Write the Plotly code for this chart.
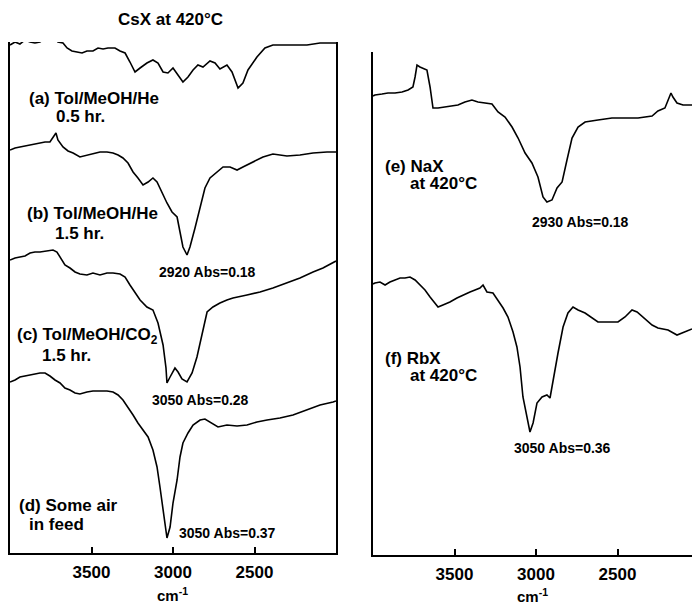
import plotly.graph_objects as go

# ---------------- data (wavenumber cm-1, relative absorbance in arbitrary offset units) ----------
wn_a = [4000, 3969, 3939, 3908, 3877, 3847, 3816, 3775, 3755, 3736, 3706, 3675, 3650, 3620, 3589,
        3558, 3528, 3491, 3460, 3429, 3399, 3356, 3325, 3294, 3264, 3233, 3202, 3160, 3123, 3092,
        3061, 3031, 3000, 2969, 2939, 2908, 2877, 2847, 2816, 2773, 2742, 2712, 2669, 2638, 2601,
        2571, 2540, 2485, 2436, 2387, 2325, 2264, 2178, 2098, 2018, 2000]
val_a = [508, 511, 509, 513, 511, 510, 511, 516, 513, 516, 511, 510, 505, 502, 501,
         500, 502, 502, 505, 504, 505, 505, 502, 500, 491, 481, 485, 490, 493, 490,
         481, 480, 485, 478, 471, 476, 483, 488, 486, 492, 490, 484, 488, 481, 465,
         470, 483, 496, 505, 508, 508, 508, 508, 510, 510, 510]

wn_b = [4000, 3969, 3939, 3908, 3877, 3847, 3816, 3785, 3755, 3736, 3718, 3706, 3675, 3644, 3613,
        3571, 3528, 3491, 3448, 3405, 3368, 3337, 3307, 3276, 3245, 3215, 3184, 3153, 3123, 3098,
        3067, 3037, 3006, 2975, 2957, 2939, 2914, 2896, 2865, 2834, 2804, 2773, 2730, 2693, 2650,
        2607, 2571, 2509, 2448, 2387, 2301, 2221, 2141, 2055, 2018, 2000]
val_b = [403, 405, 406, 407, 408, 409, 410, 411, 411, 416, 420, 413, 406, 402, 400,
         396, 398, 399, 401, 401, 400, 398, 395, 390, 381, 375, 368, 371, 375, 371,
         360, 350, 341, 336, 321, 306, 298, 306, 325, 345, 365, 375, 381, 386, 386,
         383, 386, 391, 396, 399, 397, 398, 400, 401, 401, 401]

wn_c = [4000, 3969, 3939, 3908, 3877, 3847, 3816, 3773, 3736, 3712, 3693, 3663, 3632, 3601, 3571,
        3528, 3491, 3448, 3405, 3368, 3325, 3294, 3264, 3233, 3202, 3160, 3123, 3092, 3061, 3043,
        3037, 3018, 2988, 2969, 2945, 2914, 2883, 2853, 2822, 2791, 2755, 2712, 2669, 2632, 2546,
        2466, 2387, 2301, 2221, 2141, 2080, 2000]
val_c = [293, 295, 296, 297, 300, 301, 301, 302, 303, 301, 296, 288, 285, 281, 279,
         278, 280, 278, 280, 280, 279, 276, 268, 260, 253, 246, 243, 230, 208, 185,
         170, 176, 185, 181, 174, 171, 180, 196, 220, 241, 246, 250, 253, 255, 258,
         261, 265, 270, 275, 281, 285, 292]

wn_d = [4000, 3969, 3939, 3908, 3877, 3847, 3816, 3785, 3755, 3724, 3693, 3663, 3632, 3601, 3571,
        3528, 3491, 3448, 3405, 3368, 3337, 3307, 3276, 3245, 3215, 3184, 3153, 3123, 3098, 3080,
        3061, 3037, 3018, 3000, 2975, 2957, 2939, 2908, 2877, 2834, 2804, 2773, 2724, 2669, 2607,
        2546, 2485, 2423, 2344, 2264, 2178, 2098, 2018, 2000]
val_d = [171, 173, 176, 177, 178, 179, 180, 180, 177, 173, 170, 165, 163, 160, 159,
         161, 162, 162, 162, 161, 158, 153, 146, 138, 130, 123, 116, 103, 86, 66,
         43, 15, 26, 50, 73, 96, 110, 120, 128, 133, 134, 131, 126, 128, 127,
         128, 131, 133, 135, 138, 143, 148, 151, 152]

wn_e = [4000, 3988, 3945, 3908, 3865, 3822, 3785, 3755, 3742, 3730, 3712, 3693, 3669, 3650, 3632,
        3601, 3558, 3515, 3479, 3436, 3393, 3356, 3313, 3270, 3233, 3190, 3147, 3110, 3067, 3025,
        2988, 2957, 2933, 2902, 2871, 2840, 2810, 2779, 2742, 2699, 2620, 2534, 2454, 2374, 2288,
        2252, 2209, 2190, 2172, 2160, 2135, 2098, 2043]
val_e = [459, 460, 461, 462, 462, 463, 465, 468, 478, 490, 488, 487, 485, 468, 447,
         447, 448, 449, 450, 453, 455, 453, 452, 451, 443, 438, 428, 417, 402, 392,
         378, 358, 353, 355, 367, 373, 395, 417, 428, 433, 435, 437, 437, 437, 439,
         444, 447, 455, 462, 458, 452, 450, 450]

wn_f = [4000, 3988, 3957, 3926, 3896, 3865, 3834, 3804, 3773, 3742, 3712, 3681, 3650, 3620, 3601,
        3571, 3528, 3485, 3448, 3405, 3374, 3344, 3325, 3301, 3264, 3233, 3202, 3172, 3141, 3117,
        3098, 3080, 3055, 3037, 3018, 2994, 2963, 2933, 2914, 2896, 2865, 2834, 2804, 2773, 2742,
        2699, 2656, 2620, 2558, 2497, 2454, 2411, 2380, 2344, 2288, 2252, 2190, 2135, 2086, 2043]
val_f = [271, 272, 273, 270, 273, 275, 277, 277, 278, 275, 270, 265, 258, 252, 248,
         250, 253, 257, 260, 263, 265, 267, 270, 263, 262, 255, 247, 238, 223, 208,
         188, 158, 138, 123, 132, 152, 158, 160, 157, 175, 202, 228, 242, 248, 245,
         242, 237, 233, 233, 233, 238, 245, 243, 238, 230, 227, 225, 220, 223, 226]

tick_vals = [3500, 3000, 2500]
tick_text = ["3500", "3000", "2500"]

# ---------------- figure ----------------
W, H = 692, 607
FONT = "Liberation Sans, Arial, Helvetica, sans-serif"


def px(x, y):
    return x / W, 1 - y / H


fig = go.Figure()
line = dict(color="black", width=1.6)
for wn, v in [(wn_a, val_a), (wn_b, val_b), (wn_c, val_c), (wn_d, val_d)]:
    fig.add_trace(go.Scatter(x=wn, y=v, mode="lines", line=line, xaxis="x", yaxis="y",
                             showlegend=False, hoverinfo="skip"))
for wn, v in [(wn_e, val_e), (wn_f, val_f)]:
    fig.add_trace(go.Scatter(x=wn, y=v, mode="lines", line=line, xaxis="x2", yaxis="y2",
                             showlegend=False, hoverinfo="skip"))

axis_common = dict(showgrid=False, zeroline=False, showline=True, linecolor="black",
                   linewidth=2, ticks="inside", ticklen=6, tickwidth=1.5, tickcolor="black",
                   tickvals=tick_vals, ticktext=tick_text, ticklabelstandoff=3,
                   tickfont=dict(family=FONT, size=17, color="black", weight="bold"))

x0l, x1l = px(10, 0)[0], px(336, 0)[0]
x0r = px(373, 0)[0]
fig.update_layout(
    width=W, height=H,
    margin=dict(l=0, r=0, t=0, b=0),
    paper_bgcolor="white", plot_bgcolor="white",
    font=dict(family=FONT, size=17, color="black", weight="bold"),
    xaxis=dict(domain=[x0l, x1l], range=[4000, 2000], anchor="y", **axis_common),
    yaxis=dict(domain=[px(0, 553)[1], px(0, 42)[1]], range=[0, 511], anchor="x",
               showgrid=False, zeroline=False, showline=True, mirror=True,
               linecolor="black", linewidth=2, showticklabels=False, ticks=""),
    xaxis2=dict(domain=[x0r, 1.0], range=[4000, 2043], anchor="y2", **axis_common),
    yaxis2=dict(domain=[px(0, 555)[1], px(0, 52)[1]], range=[0, 503], anchor="x2",
                showgrid=False, zeroline=False, showline=True, mirror=False,
                linecolor="black", linewidth=2, showticklabels=False, ticks=""),
)

labels = [
    # (text, x_px, y_px, xanchor, size)
    ("CsX at 420°C", 170, 20, "center", 17),
    ("(a) Tol/MeOH/He", 27, 98, "left", 17),
    ("0.5 hr.", 54, 116, "left", 17),
    ("(b) Tol/MeOH/He", 25, 213, "left", 17),
    ("1.5 hr.", 53, 233, "left", 17),
    ("2920 Abs=0.18", 157, 272, "left", 14),
    ("(c) Tol/MeOH/CO<sub>2</sub>", 15, 336, "left", 17),
    ("1.5 hr.", 40, 355, "left", 17),
    ("3050 Abs=0.28", 150, 400, "left", 14),
    ("(d) Some air", 17, 505, "left", 17),
    ("in feed", 27, 524, "left", 17),
    ("3050 Abs=0.37", 177, 533, "left", 14),
    ("cm<sup>-1</sup>", 172, 594, "center", 15),
    ("(e) NaX", 383, 167, "left", 17),
    ("at 420°C", 408, 184, "left", 17),
    ("2930 Abs=0.18", 530, 222, "left", 14),
    ("(f) RbX", 383, 358, "left", 17),
    ("at 420°C", 408, 375, "left", 17),
    ("3050 Abs=0.36", 512, 448, "left", 14),
    ("cm<sup>-1</sup>", 532, 595, "center", 15),
]
for text, x, y, xa, size in labels:
    xp, yp = px(x, y)
    fig.add_annotation(text=text, x=xp, y=yp, xref="paper", yref="paper",
                       xanchor=xa, yanchor="middle", showarrow=False,
                       font=dict(family=FONT, size=size, color="black", weight="bold"))

fig.write_html("out.html", config={"displayModeBar": False},
               post_script="document.body.style.margin='0px';document.body.style.padding='0px';"
                           "document.body.style.overflow='hidden';")
